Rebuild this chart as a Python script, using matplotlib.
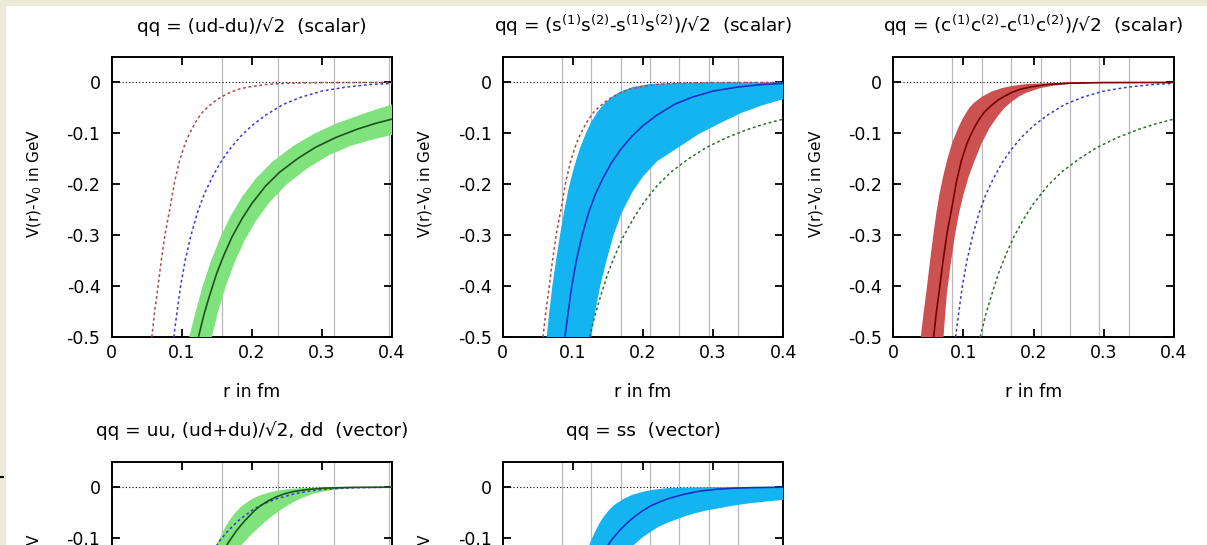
import numpy as np
import matplotlib
matplotlib.use("Agg")
import matplotlib.pyplot as plt
from matplotlib.lines import Line2D
from matplotlib.patches import Rectangle

plt.rcParams["font.family"] = "DejaVu Sans"
plt.rcParams["mathtext.default"] = "regular"
plt.rcParams["axes.unicode_minus"] = False

# --- potentials V(r)-V0 [GeV] vs r [fm] -------------------------------------
# light scalar, (ud-du)/sqrt2
ud_s_r = [0.124, 0.132, 0.140, 0.150, 0.160, 0.172, 0.186, 0.200, 0.220, 0.240,
          0.265, 0.290, 0.320, 0.350, 0.375, 0.400]
ud_s_v = [-0.500, -0.455, -0.418, -0.375, -0.340, -0.303, -0.268, -0.238, -0.203,
          -0.176, -0.150, -0.128, -0.108, -0.092, -0.081, -0.072]
ud_s_up_r = [0.111, 0.120, 0.130, 0.142, 0.155, 0.170, 0.186, 0.205, 0.230, 0.260,
             0.290, 0.320, 0.360, 0.400]
ud_s_up_v = [-0.500, -0.450, -0.400, -0.350, -0.305, -0.262, -0.225, -0.190, -0.155,
             -0.124, -0.100, -0.081, -0.061, -0.043]
ud_s_lo_r = [0.143, 0.152, 0.163, 0.176, 0.190, 0.206, 0.225, 0.250, 0.280, 0.310,
             0.340, 0.370, 0.400]
ud_s_lo_v = [-0.500, -0.450, -0.400, -0.352, -0.310, -0.272, -0.236, -0.200, -0.168,
             -0.143, -0.125, -0.113, -0.103]

# strange scalar
ss_s_r = [0.0888, 0.0935, 0.0985, 0.105, 0.113, 0.122, 0.132, 0.143, 0.155, 0.168,
          0.184, 0.200, 0.220, 0.245, 0.270, 0.300, 0.335, 0.370, 0.400]
ss_s_v = [-0.500, -0.450, -0.400, -0.350, -0.302, -0.258, -0.220, -0.188, -0.158,
          -0.132, -0.106, -0.085, -0.064, -0.043, -0.029, -0.017, -0.009, -0.004, -0.002]
ss_s_up_r = [0.0627, 0.0665, 0.0708, 0.076, 0.0817, 0.088, 0.0945, 0.102, 0.110, 0.118,
             0.126, 0.135, 0.145, 0.157, 0.168, 0.185, 0.210, 0.250, 0.300, 0.400]
ss_s_up_v = [-0.500, -0.450, -0.400, -0.350, -0.300, -0.250, -0.205, -0.165, -0.130,
             -0.102, -0.078, -0.058, -0.041, -0.027, -0.018, -0.009, -0.003, -0.001, 0.0, 0.0]
ss_s_lo_r = [0.126, 0.132, 0.139, 0.148, 0.158, 0.170, 0.185, 0.200, 0.220, 0.250,
             0.280, 0.310, 0.340, 0.370, 0.400]
ss_s_lo_v = [-0.500, -0.450, -0.400, -0.350, -0.300, -0.255, -0.215, -0.185, -0.155,
             -0.128, -0.101, -0.080, -0.060, -0.045, -0.033]

# charm scalar
cc_s_r = [0.0575, 0.0615, 0.0655, 0.0705, 0.0765, 0.083, 0.090, 0.097, 0.105, 0.111,
          0.117, 0.123, 0.130, 0.140, 0.150, 0.160, 0.170, 0.182, 0.195, 0.220, 0.250,
          0.300, 0.400]
cc_s_v = [-0.500, -0.450, -0.410, -0.355, -0.297, -0.250, -0.195, -0.154, -0.120,
          -0.101, -0.085, -0.071, -0.058, -0.045, -0.034, -0.026, -0.019, -0.013,
          -0.009, -0.004, -0.0015, -0.0003, 0.0]
cc_s_up_r = [0.0392, 0.043, 0.0468, 0.052, 0.0573, 0.0615, 0.0659, 0.071, 0.0764, 0.084,
             0.093, 0.099, 0.105, 0.110, 0.116, 0.1265, 0.140, 0.155, 0.1686, 0.190,
             0.210, 0.260, 0.400]
cc_s_up_v = [-0.500, -0.455, -0.415, -0.355, -0.297, -0.255, -0.219, -0.185, -0.154,
             -0.118, -0.088, -0.071, -0.057, -0.047, -0.039, -0.028, -0.018, -0.011,
             -0.007, -0.003, -0.002, 0.0, 0.0]
cc_s_lo_r = [0.0716, 0.074, 0.0764, 0.082, 0.0883, 0.094, 0.1003, 0.108, 0.117, 0.1265,
             0.137, 0.148, 0.158, 0.1686, 0.180, 0.190, 0.210, 0.230, 0.252, 0.290,
             0.330, 0.400]
cc_s_lo_v = [-0.500, -0.455, -0.415, -0.355, -0.297, -0.255, -0.219, -0.183, -0.150,
             -0.118, -0.090, -0.068, -0.051, -0.038, -0.027, -0.020, -0.011, -0.006,
             -0.003, -0.001, 0.0, 0.0]

# light vector, uu / (ud+du)/sqrt2 / dd
ud_v_r = [0.158, 0.1631, 0.168, 0.173, 0.178, 0.1833, 0.190, 0.197, 0.204, 0.212,
          0.222, 0.235, 0.247, 0.2595, 0.280, 0.302, 0.340, 0.400]
ud_v_v = [-0.128, -0.117, -0.106, -0.096, -0.086, -0.077, -0.066, -0.056, -0.046,
          -0.037, -0.028, -0.019, -0.013, -0.0086, -0.0045, -0.002, -0.0005, 0.0]
ud_v_up_r = [0.145, 0.150, 0.154, 0.158, 0.162, 0.167, 0.172, 0.178, 0.185, 0.193,
             0.202, 0.212, 0.224, 0.236, 0.250, 0.270, 0.300, 0.400]
ud_v_up_v = [-0.125, -0.113, -0.101, -0.090, -0.079, -0.068, -0.058, -0.048, -0.038,
             -0.030, -0.022, -0.016, -0.011, -0.007, -0.004, -0.002, -0.0005, 0.0]
ud_v_lo_r = [0.178, 0.1833, 0.190, 0.196, 0.204, 0.212, 0.220, 0.230, 0.240, 0.250,
             0.260, 0.270, 0.280, 0.288, 0.300, 0.315, 0.330, 0.360, 0.400]
ud_v_lo_v = [-0.127, -0.117, -0.107, -0.098, -0.087, -0.077, -0.067, -0.056, -0.046,
             -0.037, -0.029, -0.022, -0.017, -0.013, -0.009, -0.006, -0.003, -0.001, 0.0]

# strange vector, ss
ss_v_r = [0.145, 0.1488, 0.154, 0.160, 0.166, 0.1725, 0.180, 0.190, 0.200, 0.2107,
          0.222, 0.235, 0.2584, 0.280, 0.306, 0.330, 0.354, 0.400]
ss_v_v = [-0.126, -0.117, -0.106, -0.096, -0.086, -0.077, -0.067, -0.056, -0.046,
          -0.037, -0.030, -0.023, -0.014, -0.008, -0.004, -0.002, -0.001, 0.0]
ss_v_up_r = [0.119, 0.1225, 0.127, 0.132, 0.138, 0.144, 0.151, 0.159, 0.1725, 0.185,
             0.200, 0.215, 0.235, 0.260, 0.300, 0.400]
ss_v_up_v = [-0.128, -0.117, -0.102, -0.087, -0.071, -0.058, -0.046, -0.035, -0.023,
             -0.015, -0.009, -0.005, -0.002, -0.001, 0.0, 0.0]
ss_v_lo_r = [0.177, 0.1845, 0.197, 0.2107, 0.222, 0.235, 0.258, 0.275, 0.290, 0.310,
             0.330, 0.350, 0.370, 0.385, 0.400]
ss_v_lo_v = [-0.127, -0.117, -0.101, -0.088, -0.078, -0.070, -0.058, -0.051, -0.046,
             -0.041, -0.036, -0.032, -0.029, -0.027, -0.025]

# lattice separations marked by vertical lines
grid_coarse = [0.158, 0.238, 0.317, 0.396]
grid_fine = [0.084, 0.126, 0.168, 0.210, 0.252, 0.294, 0.336]

titles = [
    "qq = (ud-du)/\u221a2  (scalar)",
    "qq = (s$^{(1)}$s$^{(2)}$-s$^{(1)}$s$^{(2)}$)/\u221a2  (scalar)",
    "qq = (c$^{(1)}$c$^{(2)}$-c$^{(1)}$c$^{(2)}$)/\u221a2  (scalar)",
    "qq = uu, (ud+du)/\u221a2, dd  (vector)",
    "qq = ss  (vector)",
]

x_ticks = [0, 0.1, 0.2, 0.3, 0.4]
x_labels = ["0", "0.1", "0.2", "0.3", "0.4"]
y_ticks = [0, -0.1, -0.2, -0.3, -0.4, -0.5]
y_labels = ["0", "-0.1", "-0.2", "-0.3", "-0.4", "-0.5"]

GREEN_BAND, GREEN_LINE, GREEN_DOT = "#80e27c", "#1d521d", "#2e6b2e"
BLUE_BAND, BLUE_LINE, BLUE_DOT = "#14b4f0", "#1530c8", "#3a3ad0"
RED_BAND, RED_LINE, RED_DOT = "#cc5252", "#7a0000", "#b04848"

W, H = 1207, 545


def make_axes(fig, left_px, top_px, w_px=280.5, h_px=280.0):
    return fig.add_axes([left_px / W, (H - top_px - h_px) / H, w_px / W, h_px / H])


def draw_panel(ax, title, grid, band, center, band_color, line_color, dotted):
    for g in grid:
        ax.axvline(g, color="#b9b9b9", lw=0.9, zorder=1)
    ax.axhline(0, color="black", lw=0.8, ls=(0, (1, 2)), zorder=2)

    (ur, uv), (lr, lv) = band
    ax.fill(np.r_[ur, lr[::-1]], np.r_[uv, lv[::-1]], color=band_color, lw=0, zorder=3)
    ax.plot(center[0], center[1], color=line_color, lw=1.2, zorder=5)
    for (r, v), c in dotted:
        ax.plot(r, v, color=c, lw=1.1, ls=(0, (1.8, 1.8)), zorder=4)

    ax.set_xlim(0, 0.4)
    ax.set_ylim(-0.5, 0.05)
    ax.set_xticks(x_ticks, x_labels)
    ax.set_yticks(y_ticks, y_labels)
    ax.tick_params(direction="in", length=5.8, width=1.3, top=True, right=True,
                   labelsize=12.5)
    ax.tick_params(axis="x", pad=5)
    ax.tick_params(axis="y", pad=8)
    for s in ax.spines.values():
        s.set_linewidth(1.4)

    ax.text(0.5, 1.09, title, transform=ax.transAxes, ha="center", va="baseline",
            fontsize=13.3)
    ax.set_xlabel("r in fm", fontsize=12.5)
    ax.xaxis.set_label_coords(0.5, -0.164)
    ax.set_ylabel("V(r)-V$_0$ in GeV", fontsize=11)
    ax.yaxis.set_label_coords(-0.24, 0.55)


def arr(*xs):
    return tuple(np.asarray(x, dtype=float) for x in xs)


fig = plt.figure(figsize=(W / 100, H / 100), dpi=100, facecolor="#ebead6")
fig.add_artist(Rectangle((6 / W, 0), 1, (H - 6) / H, transform=fig.transFigure,
                         facecolor="white", edgecolor="none", zorder=-10))
fig.add_artist(Line2D([0, 3 / W], [1 - 477 / H] * 2, transform=fig.transFigure,
                      color="black", lw=1.5))

ud_s = arr(ud_s_r, ud_s_v)
ss_s = arr(ss_s_r, ss_s_v)
cc_s = arr(cc_s_r, cc_s_v)
ud_v = arr(ud_v_r, ud_v_v)
ss_v = arr(ss_v_r, ss_v_v)

ax1 = make_axes(fig, 111.5, 57)
draw_panel(ax1, titles[0], grid_coarse,
           (arr(ud_s_up_r, ud_s_up_v), arr(ud_s_lo_r, ud_s_lo_v)),
           ud_s, GREEN_BAND, GREEN_LINE,
           [(cc_s, RED_DOT), (ss_s, BLUE_DOT)])

ax2 = make_axes(fig, 502.7, 57)
draw_panel(ax2, titles[1], grid_fine,
           (arr(ss_s_up_r, ss_s_up_v), arr(ss_s_lo_r, ss_s_lo_v)),
           ss_s, BLUE_BAND, BLUE_LINE,
           [(cc_s, RED_DOT), (ud_s, GREEN_DOT)])

ax3 = make_axes(fig, 893.3, 57)
draw_panel(ax3, titles[2], grid_fine,
           (arr(cc_s_up_r, cc_s_up_v), arr(cc_s_lo_r, cc_s_lo_v)),
           cc_s, RED_BAND, RED_LINE,
           [(ss_s, BLUE_DOT), (ud_s, GREEN_DOT)])

ax4 = make_axes(fig, 111.5, 461.7)
draw_panel(ax4, titles[3], grid_coarse,
           (arr(ud_v_up_r, ud_v_up_v), arr(ud_v_lo_r, ud_v_lo_v)),
           ud_v, GREEN_BAND, GREEN_LINE,
           [(ss_v, BLUE_DOT)])

ax5 = make_axes(fig, 502.7, 461.7)
draw_panel(ax5, titles[4], grid_fine,
           (arr(ss_v_up_r, ss_v_up_v), arr(ss_v_lo_r, ss_v_lo_v)),
           ss_v, BLUE_BAND, BLUE_LINE, [])

fig.savefig("out.png", dpi=100, facecolor=fig.get_facecolor())
